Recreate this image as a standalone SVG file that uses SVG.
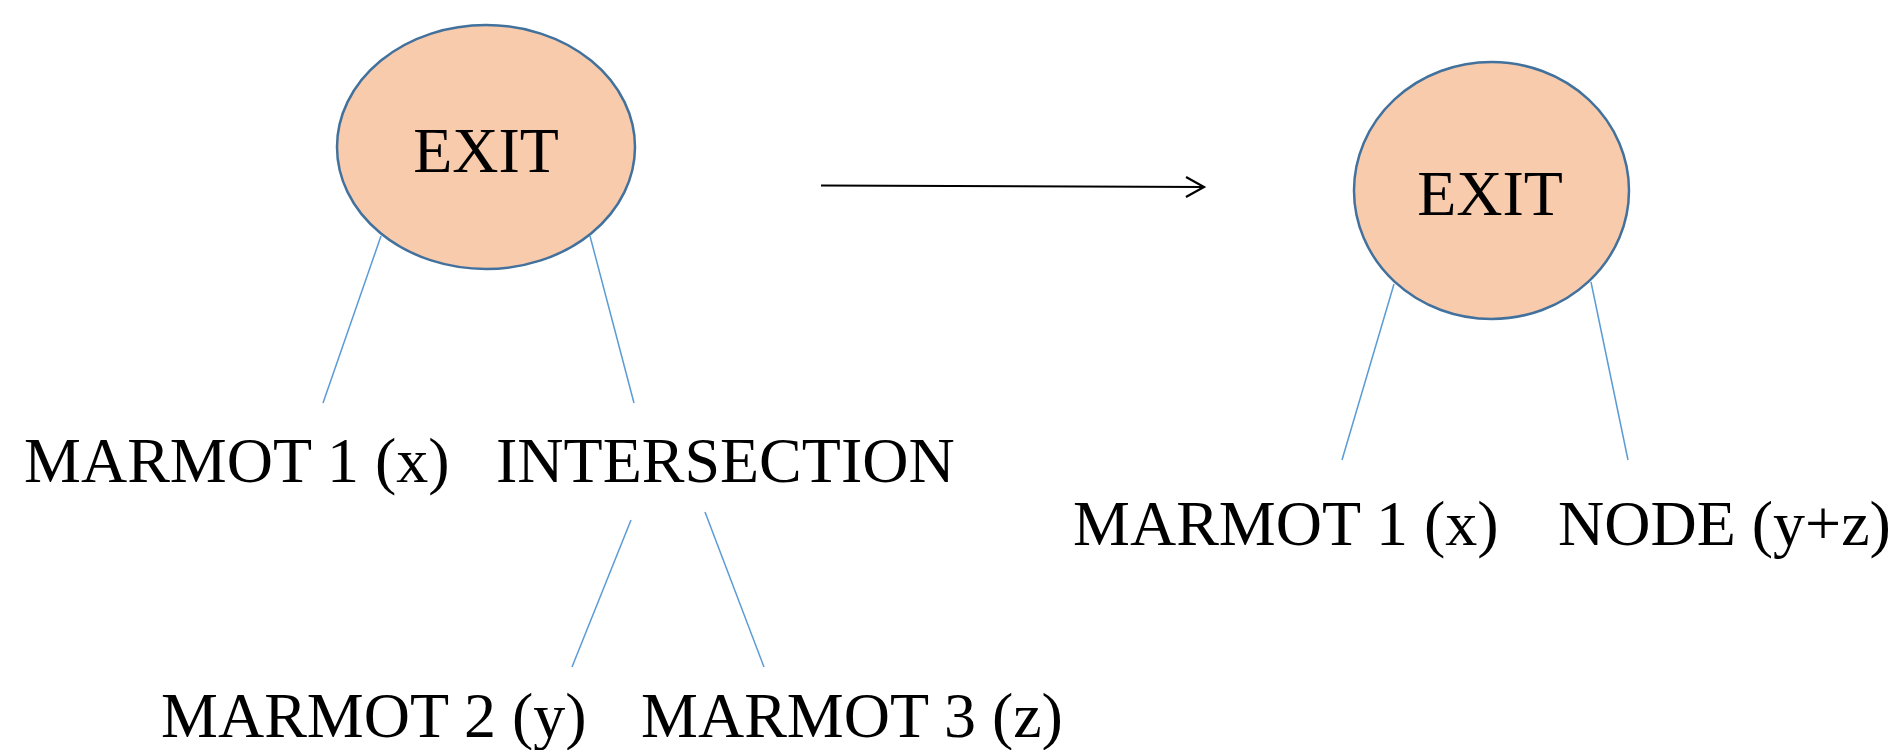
<svg xmlns="http://www.w3.org/2000/svg" width="1893" height="750" viewBox="0 0 1893 750">
<defs>
<style>
.node{fill:#F8CBAD;stroke:#41719C;stroke-width:2.5}
.lbl{font-family:"Liberation Serif","Times New Roman",serif;font-size:64px;fill:#000}
.edge{stroke:#5B9BD5;stroke-width:1.5;fill:none}
.arrow{stroke:#000;stroke-width:2;fill:none}
</style>
<marker id="open" markerWidth="24" markerHeight="24" refX="20" refY="12" orient="auto" markerUnits="userSpaceOnUse">
<path d="M2,2 L20,12 L2,22" fill="none" stroke="#000" stroke-width="2.2"/>
</marker>
</defs>
<rect width="1893" height="750" fill="#fff"/>
<g id="connectors">
<line class="edge" x1="381" y1="236" x2="323" y2="403"/>
<line class="edge" x1="590" y1="236" x2="634" y2="403"/>
<line class="edge" x1="631" y1="520" x2="572" y2="667"/>
<line class="edge" x1="705" y1="512" x2="764" y2="667"/>
<line class="edge" x1="1394" y1="284" x2="1342" y2="460"/>
<line class="edge" x1="1591" y1="282" x2="1628" y2="460"/>
<line class="arrow" x1="821" y1="185.5" x2="1204" y2="187" marker-end="url(#open)"/>
</g>
<g id="exit-left">
<ellipse class="node" cx="486" cy="147" rx="149" ry="122"/>
<text class="lbl" x="486" y="172" text-anchor="middle">EXIT</text>
</g>
<g id="marmot1-left"><text class="lbl" x="24" y="482">MARMOT 1 (x)</text></g>
<g id="intersection"><text class="lbl" x="496" y="482">INTERSECTION</text></g>
<g id="marmot2"><text class="lbl" x="161" y="737">MARMOT 2 (y)</text></g>
<g id="marmot3"><text class="lbl" x="641" y="737">MARMOT 3 (z)</text></g>
<g id="exit-right">
<ellipse class="node" cx="1491.5" cy="190.5" rx="137.5" ry="128.5"/>
<text class="lbl" x="1490" y="215" text-anchor="middle">EXIT</text>
</g>
<g id="marmot1-right"><text class="lbl" x="1073" y="545">MARMOT 1 (x)</text></g>
<g id="node-yz"><text class="lbl" x="1558" y="545">NODE (y+z)</text></g>
</svg>
